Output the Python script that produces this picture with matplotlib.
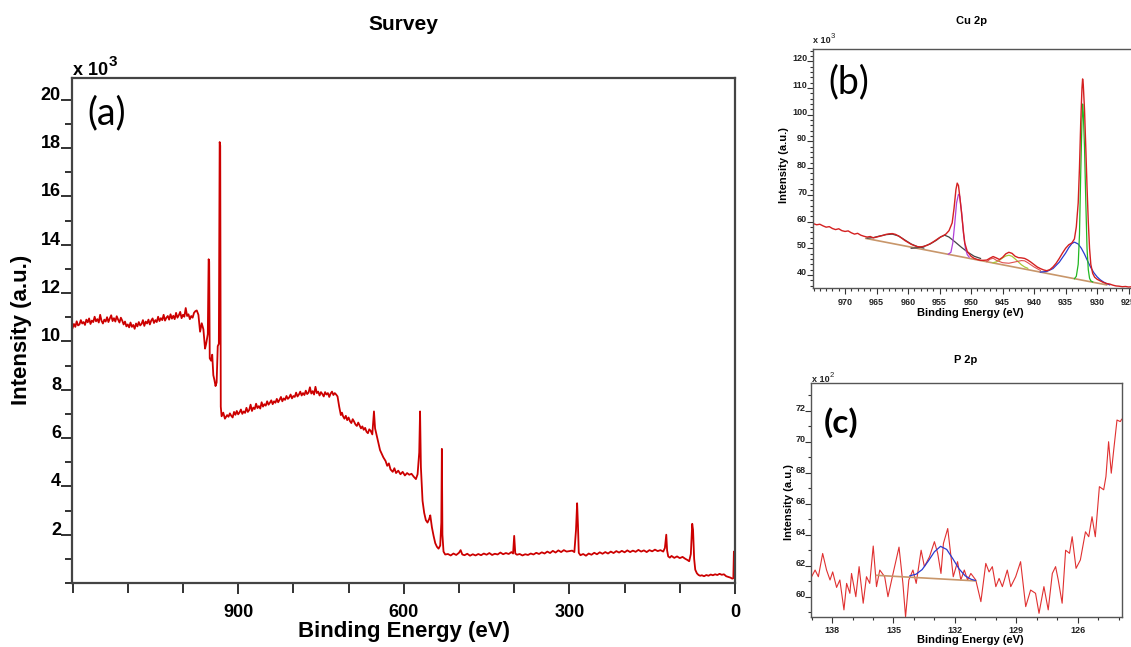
import numpy as np
import matplotlib.pyplot as plt
from matplotlib.ticker import MultipleLocator

plt.rcParams['font.family'] = ['Liberation Sans', 'DejaVu Sans']

# ---- survey spectrum: (binding energy eV, intensity / 1e3) ----
survey_pts = [
    (1200.0, 10.55), (1197.5, 10.72), (1195.0, 10.60), (1192.5, 10.83), (1190.0, 10.66),
    (1187.5, 10.70), (1185.0, 10.88), (1182.5, 10.74), (1180.0, 10.80), (1177.5, 10.68),
    (1175.0, 10.90), (1172.5, 10.79), (1170.0, 10.95), (1167.5, 10.72), (1165.0, 10.86),
    (1162.5, 10.80), (1160.0, 11.02), (1157.5, 10.83), (1155.0, 10.92), (1152.5, 10.78),
    (1150.0, 11.10), (1147.5, 10.85), (1145.0, 10.74), (1142.5, 10.90), (1140.0, 10.82),
    (1137.5, 11.00), (1135.0, 10.80), (1132.5, 10.95), (1130.0, 11.08), (1127.5, 10.84),
    (1125.0, 10.96), (1122.5, 10.82), (1120.0, 11.04), (1117.5, 10.90), (1115.0, 10.78),
    (1112.5, 10.98), (1110.0, 10.86), (1107.5, 10.70), (1105.0, 10.82), (1102.5, 10.62),
    (1100.0, 10.70), (1097.5, 10.58), (1095.0, 10.78), (1092.5, 10.60), (1090.0, 10.68),
    (1087.5, 10.52), (1085.0, 10.74), (1082.5, 10.62), (1080.0, 10.80), (1077.5, 10.66),
    (1075.0, 10.72), (1072.5, 10.88), (1070.0, 10.64), (1067.5, 10.82), (1065.0, 10.74),
    (1062.5, 10.90), (1060.0, 10.70), (1057.5, 10.86), (1055.0, 10.95), (1052.5, 10.76),
    (1050.0, 10.88), (1047.5, 10.80), (1045.0, 11.02), (1042.5, 10.84), (1040.0, 10.96),
    (1037.5, 10.88), (1035.0, 11.10), (1032.5, 10.86), (1030.0, 10.98), (1027.5, 11.05),
    (1025.0, 10.90), (1022.5, 11.12), (1020.0, 10.94), (1017.5, 11.06), (1015.0, 10.92),
    (1012.5, 11.18), (1010.0, 10.98), (1007.5, 11.08), (1005.0, 11.22), (1002.5, 10.96),
    (1000.0, 11.10), (997.5, 11.02), (995.0, 11.38), (992.5, 11.05), (990.0, 11.12),
    (987.5, 10.92), (985.0, 11.05), (982.5, 10.98), (980.0, 11.18), (977.5, 11.25),
    (975.0, 11.28), (972.0, 11.10), (969.0, 10.40), (966.0, 10.75), (963.0, 10.50),
    (960.0, 9.70), (958.0, 9.90), (955.0, 10.30), (953.5, 13.40), (952.5, 13.30),
    (951.5, 9.30), (949.0, 9.20), (947.0, 9.45), (945.0, 8.60), (943.0, 8.40),
    (941.0, 8.15), (939.0, 8.30), (937.0, 9.80), (935.0, 9.90), (934.0, 15.40),
    (933.5, 18.25), (932.5, 18.10), (931.5, 7.30), (930.0, 6.90), (927.0, 7.05),
    (924.0, 6.80), (920.0, 6.95), (917.5, 6.88), (915.0, 7.02), (912.5, 6.92),
    (910.0, 6.85), (907.5, 7.08), (905.0, 6.96), (902.5, 7.12), (900.0, 6.98),
    (897.5, 7.06), (895.0, 7.18), (892.5, 7.00), (890.0, 7.10), (887.5, 7.04),
    (885.0, 7.25), (882.5, 7.08), (880.0, 7.16), (877.5, 7.38), (875.0, 7.12),
    (872.5, 7.26), (870.0, 7.20), (867.5, 7.42), (865.0, 7.24), (862.5, 7.32),
    (860.0, 7.22), (857.5, 7.48), (855.0, 7.30), (852.5, 7.40), (850.0, 7.34),
    (847.5, 7.52), (845.0, 7.38), (842.5, 7.46), (840.0, 7.56), (837.5, 7.40),
    (835.0, 7.52), (832.5, 7.46), (830.0, 7.62), (827.5, 7.48), (825.0, 7.58),
    (822.5, 7.70), (820.0, 7.52), (817.5, 7.64), (815.0, 7.58), (812.5, 7.74),
    (810.0, 7.62), (807.5, 7.68), (805.0, 7.80), (802.5, 7.64), (800.0, 7.74),
    (797.5, 7.70), (795.0, 7.88), (792.5, 7.72), (790.0, 7.80), (787.5, 7.92),
    (785.0, 7.76), (782.5, 7.86), (780.0, 7.78), (777.5, 7.96), (775.0, 7.82),
    (772.5, 7.88), (770.0, 8.10), (767.5, 7.84), (765.0, 7.94), (762.5, 7.80),
    (760.0, 8.12), (757.5, 7.86), (755.0, 7.92), (752.5, 7.76), (750.0, 7.90),
    (747.5, 7.82), (745.0, 7.72), (742.5, 7.90), (740.0, 7.80), (737.5, 7.86),
    (735.0, 7.70), (732.5, 7.84), (730.0, 7.92), (727.5, 7.78), (725.0, 7.86),
    (722.5, 7.80), (720.0, 7.72), (717.0, 7.30), (714.0, 6.95), (712.0, 7.05),
    (710.0, 6.90), (707.5, 6.80), (705.0, 6.92), (702.5, 6.74), (700.0, 6.85),
    (697.5, 6.70), (695.0, 6.62), (692.5, 6.78), (690.0, 6.68), (687.5, 6.56),
    (685.0, 6.50), (682.5, 6.64), (680.0, 6.52), (677.5, 6.40), (675.0, 6.48),
    (672.5, 6.34), (670.0, 6.42), (667.5, 6.26), (665.0, 6.20), (662.5, 6.36),
    (660.0, 6.30), (657.0, 6.15), (654.0, 7.10), (652.0, 6.40), (649.0, 6.10),
    (646.0, 5.80), (643.0, 5.50), (640.0, 5.35), (637.0, 5.20), (633.0, 5.05),
    (630.0, 4.85), (627.0, 4.95), (624.0, 4.70), (620.0, 4.60), (617.0, 4.75),
    (614.0, 4.55), (610.0, 4.65), (606.0, 4.50), (602.0, 4.60), (598.0, 4.45),
    (594.0, 4.55), (590.0, 4.48), (586.0, 4.52), (582.0, 4.40), (578.0, 4.30),
    (575.0, 4.50), (572.0, 5.40), (570.5, 7.10), (569.0, 4.80), (566.0, 3.40),
    (563.0, 2.90), (560.0, 2.60), (557.0, 2.50), (554.0, 2.65), (552.0, 2.80),
    (549.0, 2.30), (546.0, 1.95), (543.0, 1.65), (540.0, 1.50), (537.0, 1.42),
    (534.0, 1.55), (532.0, 2.50), (531.0, 5.55), (530.0, 2.00), (528.0, 1.30),
    (525.0, 1.18), (520.0, 1.20), (515.0, 1.14), (510.0, 1.22), (505.0, 1.16),
    (500.0, 1.25), (497.0, 1.36), (494.0, 1.18), (490.0, 1.15), (485.0, 1.21),
    (480.0, 1.13), (475.0, 1.19), (470.0, 1.14), (465.0, 1.20), (460.0, 1.15),
    (455.0, 1.22), (450.0, 1.17), (445.0, 1.24), (440.0, 1.16), (435.0, 1.21),
    (430.0, 1.18), (425.0, 1.26), (420.0, 1.19), (415.0, 1.24), (410.0, 1.20),
    (405.0, 1.28), (402.0, 1.22), (400.0, 1.95), (398.0, 1.22), (395.0, 1.17),
    (390.0, 1.20), (385.0, 1.14), (380.0, 1.19), (375.0, 1.16), (370.0, 1.22),
    (365.0, 1.18), (360.0, 1.25), (355.0, 1.20), (350.0, 1.27), (345.0, 1.22),
    (340.0, 1.30), (335.0, 1.24), (330.0, 1.33), (325.0, 1.26), (320.0, 1.35),
    (315.0, 1.28), (310.0, 1.36), (305.0, 1.30), (300.0, 1.32), (295.0, 1.34),
    (291.0, 1.28), (288.0, 2.20), (286.0, 3.30), (284.5, 2.40), (283.0, 1.25),
    (280.0, 1.15), (275.0, 1.20), (270.0, 1.13), (265.0, 1.22), (260.0, 1.17),
    (255.0, 1.25), (250.0, 1.19), (245.0, 1.27), (240.0, 1.21), (235.0, 1.28),
    (230.0, 1.22), (225.0, 1.30), (220.0, 1.24), (215.0, 1.32), (210.0, 1.26),
    (205.0, 1.33), (200.0, 1.27), (195.0, 1.35), (190.0, 1.28), (185.0, 1.34),
    (180.0, 1.29), (175.0, 1.37), (170.0, 1.30), (165.0, 1.35), (160.0, 1.28),
    (155.0, 1.36), (150.0, 1.31), (145.0, 1.38), (140.0, 1.32), (135.0, 1.36),
    (130.0, 1.30), (127.0, 1.45), (124.5, 2.00), (123.0, 1.35), (121.0, 1.10),
    (118.0, 1.05), (115.0, 1.12), (110.0, 1.04), (105.0, 1.10), (100.0, 1.03),
    (95.0, 1.08), (90.0, 1.00), (86.0, 0.95), (83.0, 0.90), (80.0, 1.20),
    (77.5, 2.45), (76.0, 2.20), (74.0, 1.00), (72.0, 0.55), (69.0, 0.40),
    (66.0, 0.33), (63.0, 0.30), (60.0, 0.32), (56.0, 0.28), (52.0, 0.33),
    (48.0, 0.30), (44.0, 0.35), (40.0, 0.32), (36.0, 0.36), (32.0, 0.33),
    (28.0, 0.38), (24.0, 0.34), (20.0, 0.36), (16.0, 0.28), (12.0, 0.25),
    (8.0, 0.22), (5.0, 0.18), (3.0, 0.20), (2.0, 1.30), (1.0, 0.30), (0.0, 0.30),
]
survey_ev = [p[0] for p in survey_pts]
survey_int = [p[1] for p in survey_pts]

# ---- Cu 2p region (x 1e3) ----
cu_ev = [
    975.0, 974.5, 974.0, 973.5, 973.0, 972.5, 972.0, 971.5, 971.0, 970.5, 970.0, 969.5, 969.0, 968.5,
    968.0, 967.5, 967.0, 966.5, 966.0, 965.5, 965.0, 964.5, 964.0, 963.5, 963.0, 962.5, 962.0, 961.5,
    961.0, 960.5, 960.0, 959.5, 959.0, 958.5, 958.0, 957.5, 957.0, 956.5, 956.0, 955.5, 955.0, 954.5,
    954.0, 953.5, 953.0, 952.7, 952.4, 952.2, 952.0, 951.8, 951.5, 951.2, 951.0, 950.6, 950.0, 949.5,
    949.0, 948.5, 948.0, 947.5, 947.0, 946.5, 946.0, 945.5, 945.0, 944.5, 944.0, 943.5, 943.0, 942.5,
    942.0, 941.5, 941.0, 940.5, 940.0, 939.5, 939.0, 938.5, 938.0, 937.5, 937.0, 936.5, 936.0, 935.5,
    935.0, 934.5, 934.0, 933.6, 933.3, 933.0, 932.8, 932.6, 932.4, 932.3, 932.2, 932.0, 931.8, 931.6,
    931.4, 931.2, 931.0, 930.7, 930.4, 930.0, 929.5, 929.0, 928.5, 928.0, 927.5, 927.0, 926.5, 926.0,
    925.5, 925.0, 924.5, 924.0, 923.5, 923.0, 922.5,
]
cu_int = [
    59.2, 58.8, 59.0, 58.4, 57.9, 58.1, 57.4, 57.0, 57.3, 56.6, 56.3, 56.5, 55.8, 55.3,
    55.6, 54.9, 54.5, 54.2, 54.4, 53.9, 54.2, 54.5, 54.8, 55.2, 55.4, 55.5, 55.2, 54.6,
    53.8, 52.9, 52.2, 51.5, 51.0, 50.6, 50.5, 50.7, 51.1, 51.7, 52.4, 53.2, 54.0, 54.6,
    55.3, 56.6, 59.5, 65.0, 72.0, 74.4, 73.5, 69.5, 63.0, 56.0, 52.0, 48.8, 47.0, 46.2,
    45.8, 45.5, 45.5, 45.6, 46.3, 46.9, 46.4, 45.8, 46.6, 47.9, 48.5, 48.1, 47.0, 46.5,
    46.4, 46.2, 45.6, 44.8, 43.9, 43.0, 42.4, 41.9, 41.6, 42.0, 43.0, 44.4, 46.2, 48.2,
    50.0, 51.3, 52.0, 53.5, 58.0, 67.0, 80.0, 97.0, 110.0, 113.4, 111.5, 102.0, 88.0, 73.0,
    60.0, 50.0, 44.0, 40.6, 39.2, 38.4, 37.8, 37.2, 36.8, 36.6, 36.2, 35.9, 35.8, 35.6,
    35.7, 35.5, 35.6, 35.4, 35.5, 35.3, 35.4,
]
cu_bg_ev = [966.7, 928.5]
cu_bg_int = [53.7, 36.3]

# fitted components
cu_main_ev = [933.6, 933.3, 933.0, 932.8, 932.6, 932.4, 932.3, 932.2, 932.0, 931.8, 931.6, 931.4, 931.2, 931.0, 930.7]
cu_main_int = [38.6, 39.5, 44.0, 55.0, 78.0, 98.0, 104.0, 101.0, 88.0, 68.0, 50.0, 42.0, 38.8, 37.8, 37.4]
cu_shoulder_ev = [939.0, 938.0, 937.0, 936.0, 935.0, 934.5, 934.0, 933.6, 933.0, 932.5, 932.0, 931.5, 931.0,
                  930.5, 930.0, 929.5, 929.0, 928.5, 928.0]
cu_shoulder_int = [41.1, 41.3, 42.4, 44.8, 48.2, 50.2, 51.8, 52.3, 51.6, 50.0, 47.8, 45.2, 42.8,
                   40.8, 39.3, 38.2, 37.4, 36.8, 36.3]
cu_half_ev = [953.6, 953.2, 952.9, 952.6, 952.3, 952.0, 951.8, 951.5, 951.2, 950.9, 950.6, 950.3]
cu_half_int = [47.8, 48.5, 52.0, 59.0, 67.0, 70.2, 69.5, 63.5, 55.5, 50.0, 47.6, 46.7]
cu_sat1_ev = [966.5, 965.5, 964.5, 963.5, 962.5, 961.5, 960.5, 959.5, 958.5, 957.5]
cu_sat1_int = [53.8, 54.0, 54.6, 55.1, 55.3, 54.6, 53.1, 51.6, 50.6, 50.1]
cu_sat2_ev = [959.5, 958.5, 957.5, 956.5, 955.5, 954.8, 954.2, 953.5, 952.5, 951.5, 950.5, 949.5, 948.5]
cu_sat2_int = [50.0, 50.2, 50.7, 51.6, 53.0, 54.3, 54.9, 54.2, 52.3, 50.3, 48.5, 47.0, 46.2]
cu_sat3_ev = [946.5, 946.0, 945.5, 945.0, 944.5, 944.0, 943.5, 943.0, 942.5, 942.0, 941.5, 941.0]
cu_sat3_int = [44.6, 44.9, 45.5, 46.4, 47.1, 47.4, 47.0, 46.0, 44.9, 43.8, 43.0, 42.5]
cu_sat4_ev = [947.5, 947.0, 946.5, 946.0, 945.0, 944.0, 943.0, 942.0, 941.5, 941.0, 940.0, 939.0]
cu_sat4_int = [45.0, 45.9, 46.3, 45.5, 44.6, 44.4, 44.9, 45.4, 45.3, 44.6, 43.0, 41.7]

# ---- P 2p region (x 1e2) ----
p_ev = [
    139.0, 138.83, 138.67, 138.46, 138.27, 138.1, 137.97, 137.78, 137.62, 137.42, 137.29, 137.13,
    137.05, 136.84, 136.68, 136.48, 136.32, 136.16, 135.99, 135.83, 135.67, 135.43, 135.27, 135.02,
    134.73, 134.54, 134.41, 134.25, 134.05, 133.89, 133.65, 133.49, 133.24, 133.0, 132.84, 132.68,
    132.56, 132.35, 132.19, 132.08, 131.87, 131.71, 131.54, 131.38, 131.22, 130.98, 130.73, 130.49,
    130.33, 130.17, 130.0, 129.84, 129.68, 129.44, 129.27, 129.03, 128.79, 128.54, 128.3, 128.06,
    127.89, 127.65, 127.44, 127.24, 127.08, 126.95, 126.76, 126.59, 126.4, 126.27, 126.08, 125.87,
    125.62, 125.46, 125.3, 125.14, 124.94, 124.73, 124.62, 124.49, 124.36, 124.24, 124.08, 123.92,
    123.85,
]
p_int = [
    61.29, 61.72, 61.29, 62.79, 61.72, 61.08, 61.60, 60.60, 61.08, 59.15, 60.86, 60.22,
    61.50, 60.00, 61.94, 59.58, 61.29, 60.86, 63.27, 60.65, 61.72, 61.29, 60.00, 61.50,
    63.20, 60.86, 58.70, 61.08, 61.72, 60.86, 63.00, 61.94, 62.58, 63.55, 62.80, 61.50,
    63.44, 64.40, 62.58, 61.29, 62.26, 61.08, 61.72, 61.08, 61.50, 61.08, 59.68, 62.15,
    61.60, 61.94, 60.65, 61.18, 60.65, 61.72, 60.65, 61.29, 62.26, 59.36, 60.43, 60.22,
    58.93, 60.65, 59.15, 61.50, 61.94, 61.08, 59.58, 63.00, 62.80, 63.87, 61.83, 62.37,
    64.19, 63.87, 65.16, 63.87, 67.10, 66.90, 67.75, 70.00, 67.97, 69.47, 71.40, 71.30,
    71.45,
]
p_fit_ev = [134.2, 133.9, 133.6, 133.3, 133.0, 132.7, 132.4, 132.1, 131.8, 131.5, 131.2, 131.0]
p_fit_int = [61.35, 61.45, 61.75, 62.3, 62.9, 63.25, 63.05, 62.45, 61.8, 61.35, 61.12, 61.05]
p_bg_ev = [135.83, 130.98]
p_bg_int = [61.38, 61.02]

W, H = 1131, 647
fig = plt.figure(figsize=(W / 100, H / 100), dpi=100)


def box(l, t, r, b):
    return [l / W, 1 - b / H, (r - l) / W, (b - t) / H]


def put(x, y, s, **kw):
    fig.text(x / W, 1 - y / H, s, **kw)


def baseline_yticks(ax):
    for lab in ax.get_yticklabels():
        lab.set_verticalalignment('baseline')


# (a) survey
ax = fig.add_axes(box(72, 78, 735, 583))
ax.plot(survey_ev, survey_int, color='#cc0000', lw=1.3)
ax.set_xlim(1201, 0)
ax.set_ylim(0, 20.9)
ax.set_xticks([900, 600, 300, 0])
ax.xaxis.set_minor_locator(MultipleLocator(100))
ax.set_yticks(range(2, 21, 2))
ax.yaxis.set_minor_locator(MultipleLocator(1))
ax.tick_params(which='both', direction='out', width=1.3, colors='#222222',
               labelsize=13, labelcolor='black')
ax.tick_params(axis='x', which='major', length=8, pad=7)
ax.tick_params(axis='x', which='minor', length=7)
ax.tick_params(axis='y', which='major', length=8, pad=0)
ax.tick_params(axis='y', which='minor', length=5)
for lab in ax.get_xticklabels() + ax.get_yticklabels():
    lab.set_fontweight('bold')
baseline_yticks(ax)
for sp in ax.spines.values():
    sp.set_color('#444444')
    sp.set_linewidth(1.6)

put(403.5, 29.5, 'Survey', ha='center', va='baseline', fontsize=15, fontweight='bold')
put(73, 75, 'x 10', ha='left', va='baseline', fontsize=13, fontweight='bold')
put(109, 66, '3', ha='left', va='baseline', fontsize=11, fontweight='bold')
put(107, 113, '(a)', ha='center', va='center', fontsize=27, family=['Lato', 'DejaVu Sans'])
put(403.5, 637.5, 'Binding Energy (eV)', ha='center', va='baseline', fontsize=16, fontweight='bold')
put(22, 330, 'Intensity (a.u.)', ha='center', va='center', rotation=90, fontsize=16,
    fontweight='bold')


def small_axes(ax):
    ax.tick_params(which='both', direction='out', width=0.8, colors='#333333',
                   labelsize=6.5, labelcolor='#222222')
    ax.tick_params(which='major', length=4)
    ax.tick_params(which='minor', length=2.5)
    ax.tick_params(axis='y', which='major', pad=0)
    ax.tick_params(axis='x', which='major', pad=3)
    for lab in ax.get_xticklabels() + ax.get_yticklabels():
        lab.set_fontweight('bold')
    baseline_yticks(ax)
    for sp in ax.spines.values():
        sp.set_color('#555555')
        sp.set_linewidth(1.0)


# (b) Cu 2p
bx = fig.add_axes(box(812.7, 49, 1145, 288))
bx.plot(cu_bg_ev, cu_bg_int, color='#c8966a', lw=1.2)
bx.plot(cu_sat1_ev, cu_sat1_int, color='#444444', lw=0.9)
bx.plot(cu_sat2_ev, cu_sat2_int, color='#444444', lw=0.9)
bx.plot(cu_sat3_ev, cu_sat3_int, color='#a8c838', lw=0.9)
bx.plot(cu_sat4_ev, cu_sat4_int, color='#e05050', lw=0.8)
bx.plot(cu_half_ev, cu_half_int, color='#b040d8', lw=0.9)
bx.plot(cu_shoulder_ev, cu_shoulder_int, color='#2a3ad0', lw=0.9)
bx.plot(cu_main_ev, cu_main_int, color='#22b822', lw=0.9)
bx.plot(cu_ev, cu_int, color='#d42020', lw=1.0)
bx.set_xlim(975.13, 922.4)
bx.set_ylim(35.13, 124.6)
bx.set_xticks(range(970, 920, -5))
bx.xaxis.set_minor_locator(MultipleLocator(1))
bx.set_yticks(range(40, 121, 10))
bx.yaxis.set_minor_locator(MultipleLocator(2))
small_axes(bx)

put(971.7, 24, 'Cu 2p', ha='center', va='baseline', fontsize=8, fontweight='bold')
put(813, 43, 'x 10', ha='left', va='baseline', fontsize=6.5, fontweight='bold', color='#222222')
put(831, 38.5, '3', ha='left', va='baseline', fontsize=5.5, color='#222222')
put(849, 82.5, '(b)', ha='center', va='center', fontsize=27, family=['Lato', 'DejaVu Sans'])
put(970, 316, 'Binding Energy (eV)', ha='center', va='baseline', fontsize=8, fontweight='bold')
put(784, 165.5, 'Intensity (a.u.)', ha='center', va='center', rotation=90, fontsize=8,
    fontweight='bold')

# (c) P 2p
cx = fig.add_axes(box(811, 383.3, 1121.7, 616.7))
cx.plot(p_ev, p_int, color='#e03030', lw=0.8)
cx.plot(p_bg_ev, p_bg_int, color='#c8966a', lw=1.2)
cx.plot(p_fit_ev, p_fit_int, color='#2a3ad0', lw=0.9)
cx.set_xlim(139.03, 123.85)
cx.set_ylim(58.71, 73.77)
cx.set_xticks([138, 135, 132, 129, 126])
cx.xaxis.set_minor_locator(MultipleLocator(1))
cx.set_yticks(range(60, 73, 2))
cx.yaxis.set_minor_locator(MultipleLocator(1))
small_axes(cx)

put(966, 363, 'P 2p', ha='center', va='baseline', fontsize=8, fontweight='bold')
put(812, 381.5, 'x 10', ha='left', va='baseline', fontsize=6.5, fontweight='bold', color='#222222')
put(830, 377, '2', ha='left', va='baseline', fontsize=5.5, color='#222222')
put(841.5, 422.5, '(c)', ha='center', va='center', fontsize=24, fontweight='bold',
    family=['Lato', 'DejaVu Sans'])
put(970, 643, 'Binding Energy (eV)', ha='center', va='baseline', fontsize=8, fontweight='bold')
put(789, 501.7, 'Intensity (a.u.)', ha='center', va='center', rotation=90, fontsize=8,
    fontweight='bold')

fig.savefig('out.png', dpi=100)
